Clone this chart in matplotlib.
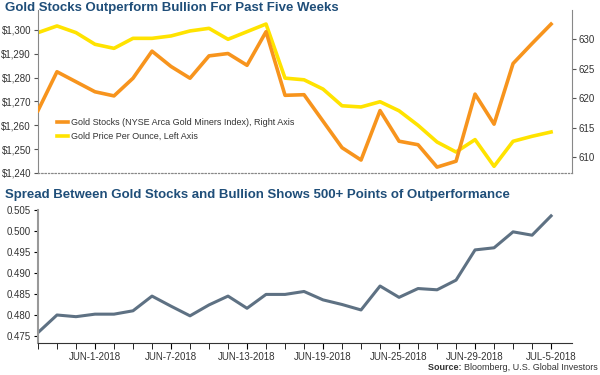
import numpy as np
import matplotlib
matplotlib.use("Agg")
import matplotlib.pyplot as plt
from matplotlib.ticker import FuncFormatter

plt.rcParams['font.family'] = ['Liberation Sans', 'DejaVu Sans']

# datos (28 sesiones)
gold_price = [1298.9, 1301.7, 1298.9, 1294.0, 1292.3, 1296.5, 1296.5, 1297.5, 1299.6, 1300.7,
              1296.1, 1299.3, 1302.5, 1279.8, 1279.1, 1275.2, 1268.2, 1267.7, 1269.9, 1266.1,
              1260.0, 1253.0, 1248.8, 1254.0, 1242.8, 1253.3, 1255.4, 1257.2]
gold_stocks = [617.9, 624.5, 622.8, 621.1, 620.4, 623.4, 628.0, 625.4, 623.4, 627.2,
               627.6, 625.6, 631.3, 620.5, 620.6, 616.1, 611.6, 609.5, 617.9, 612.7,
               612.1, 608.3, 609.3, 620.7, 615.6, 625.9, 629.3, 632.6]
spread = [0.4758, 0.4800, 0.4796, 0.4802, 0.4802, 0.4810, 0.4845, 0.4821, 0.4798, 0.4824,
          0.4845, 0.4816, 0.4849, 0.4849, 0.4856, 0.4836, 0.4825, 0.4812, 0.4869, 0.4842,
          0.4863, 0.4860, 0.4883, 0.4955, 0.4960, 0.4998, 0.4990, 0.5036]
fechas = ['JUN-1-2018', 'JUN-7-2018', 'JUN-13-2018', 'JUN-19-2018',
          'JUN-25-2018', 'JUN-29-2018', 'JUL-5-2018']
pos_fechas = [3, 7, 11, 15, 19, 23, 27]

naranja = '#F7941D'
amarillo = '#FFE300'
gris_azul = '#5E7183'
azul_titulo = '#1F4E79'

x = np.arange(len(gold_price))

fig = plt.figure(figsize=(6, 3.75), dpi=100)

# grafico de arriba
ax1 = fig.add_axes([0.0633, 0.5387, 0.89, 0.4347])
ax2 = ax1.twinx()
l1, = ax1.plot(x, gold_price, color=amarillo, lw=2.6, zorder=2)
l2, = ax2.plot(x, gold_stocks, color=naranja, lw=2.6, zorder=3)
ax1.set_xlim(0, 28.1)
ax1.set_ylim(1240, 1308.4)
ax2.set_ylim(607.3, 635.0)
ax1.set_yticks(range(1240, 1301, 10))
ax1.yaxis.set_major_formatter(FuncFormatter(lambda v, p: '${:,.0f}'.format(v)))
ax2.set_yticks(range(610, 631, 5))
ax1.set_xticks([])
for a in (ax1, ax2):
    a.spines['top'].set_visible(False)
    a.spines['bottom'].set_linestyle((0, (1, 2)))
    a.spines['bottom'].set_color('#888888')
    a.spines['left'].set_color('#888888')
    a.spines['right'].set_color('#888888')
    a.tick_params(axis='y', labelsize=7, length=3, color='#555555', labelcolor='#333333', pad=2)
ax2.spines['left'].set_visible(False)
ax1.spines['right'].set_visible(False)
ax1.legend([l2, l1], ['Gold Stocks (NYSE Arca Gold Miners Index), Right Axis',
                      'Gold Price Per Ounce, Left Axis'],
           loc='center left', bbox_to_anchor=(0.02, 0.267), frameon=False,
           fontsize=6.5, handlelength=1.2, handletextpad=0.4, labelspacing=0.55,
           labelcolor='#333333')

# grafico de abajo
ax3 = fig.add_axes([0.0633, 0.0861, 0.89, 0.3539])
ax3.plot(x, spread, color=gris_azul, lw=2.2)
ax3.set_xlim(0, 28.1)
ax3.set_ylim(0.4734, 0.505)
ax3.set_yticks(np.arange(0.475, 0.5051, 0.005))
ax3.yaxis.set_major_formatter(FuncFormatter(lambda v, p: '{:.3f}'.format(v)))
ax3.set_xticks(x, minor=True)
ax3.set_xticks(pos_fechas)
ax3.set_xticklabels(fechas)
ax3.spines['top'].set_visible(False)
ax3.spines['right'].set_visible(False)
ax3.spines['left'].set_color('#999999')
ax3.spines['left'].set_linewidth(1.5)
ax3.spines['bottom'].set_color('#333333')
ax3.tick_params(axis='y', labelsize=7, length=3, labelcolor='#333333', pad=2)
ax3.tick_params(axis='x', which='both', labelsize=7, length=4, labelcolor='#333333', pad=3)

fig.text(0.008, 0.979, 'Gold Stocks Outperform Bullion For Past Five Weeks',
         fontsize=9.5, fontweight='bold', color=azul_titulo, va='center', ha='left')
fig.text(0.008, 0.48, 'Spread Between Gold Stocks and Bullion Shows 500+ Points of Outperformance',
         fontsize=9.5, fontweight='bold', color=azul_titulo, va='center', ha='left')
# fuente abajo a la derecha
resto = fig.text(0.996, 0.008, 'Bloomberg, U.S. Global Investors', fontsize=6.5,
                 color='#333333', ha='right', va='bottom')
plt.annotate('Source: ', xy=(0, 0), xycoords=resto, fontsize=6.5, fontweight='bold',
             color='#333333', ha='right', va='bottom', annotation_clip=False)

fig.savefig('out.png', dpi=100)
